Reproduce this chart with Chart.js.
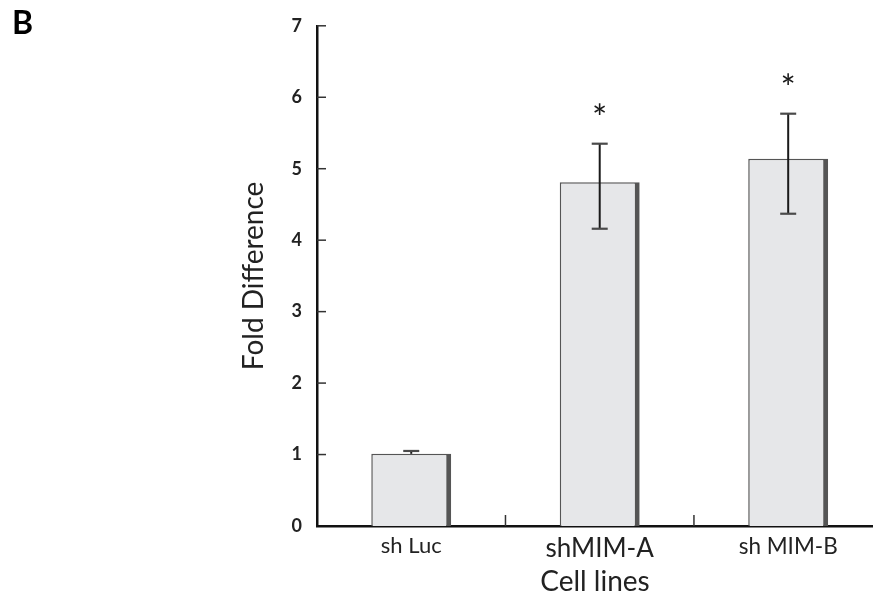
<!DOCTYPE html>
<html>
<head>
<meta charset="utf-8">
<script src="https://cdn.jsdelivr.net/npm/chart.js@4/dist/chart.umd.min.js"></script>
<style>
html,body{margin:0;padding:0;background:#fff;}
#wrap{width:873px;height:599px;position:relative;}
</style>
</head>
<body>
<div id="wrap"><canvas id="c" width="873" height="599"></canvas></div>
<script>
// ---- data ----
const categories = ['sh Luc', 'shMIM-A', 'sh MIM-B'];
const foldDifference = [1.01, 4.81, 5.14];
const errLow = [1.01, 4.16, 4.37];
const errHigh = [1.05, 5.35, 5.77];
const significance = ['', '*', '*'];
const yTicks = [0, 1, 2, 3, 4, 5, 6, 7];
const panelLabel = 'B';
const yTitle = 'Fold Difference';
const xTitle = 'Cell lines';

const FONT = 'Lato';

const decorPlugin = {
  id: 'decor',
  afterDatasetsDraw(chart) {
    const ctx = chart.ctx;
    const xs = chart.scales.x, ys = chart.scales.y;
    ctx.save();
    categories.forEach((c, i) => {
      const x = xs.getPixelForValue(i);
      const yh = ys.getPixelForValue(errHigh[i]);
      const yl = ys.getPixelForValue(errLow[i]);
      ctx.strokeStyle = '#1a1a1a';
      ctx.lineWidth = 2;
      ctx.beginPath(); ctx.moveTo(x, yh); ctx.lineTo(x, yl); ctx.stroke();
      ctx.strokeStyle = '#4a4a4a';
      ctx.lineWidth = 2.2;
      ctx.beginPath(); ctx.moveTo(x - 8, yh); ctx.lineTo(x + 8, yh); ctx.stroke();
      if (errLow[i] < foldDifference[i]) {
        ctx.beginPath(); ctx.moveTo(x - 8, yl); ctx.lineTo(x + 8, yl); ctx.stroke();
      }
      if (significance[i]) {
        ctx.fillStyle = '#1a1a1a';
        ctx.font = '36px ' + FONT;
        ctx.textAlign = 'center';
        ctx.textBaseline = 'alphabetic';
        ctx.fillText(significance[i], x, yh - 13);
      }
    });
    ctx.restore();
  },
  afterDraw(chart) {
    const ctx = chart.ctx;
    const xs = chart.scales.x, ys = chart.scales.y;
    const area = chart.chartArea;
    ctx.save();
    ctx.strokeStyle = '#333';
    ctx.lineWidth = 1.5;
    yTicks.slice(1).forEach(v => {
      const y = ys.getPixelForValue(v);
      ctx.beginPath(); ctx.moveTo(area.left, y); ctx.lineTo(area.left + 9, y); ctx.stroke();
    });
    categories.slice(1).forEach((c, i) => {
      const x = xs.getPixelForValue(i + 0.5);
      ctx.beginPath(); ctx.moveTo(x, area.bottom); ctx.lineTo(x, area.bottom - 11); ctx.stroke();
    });
    ctx.fillStyle = '#000';
    ctx.font = 'bold 32px ' + FONT;
    ctx.textAlign = 'left';
    ctx.textBaseline = 'alphabetic';
    ctx.fillText(panelLabel, 12, 34);
    ctx.restore();
  }
};

new Chart(document.getElementById('c'), {
  type: 'bar',
  data: {
    datasets: [{
      data: categories.map((c, i) => ({ x: i, y: foldDifference[i] })),
      backgroundColor: '#e6e7e9',
      borderColor: '#555555',
      borderWidth: { left: 1.5, top: 1.5, right: 5, bottom: 0 },
      borderSkipped: false,
      categoryPercentage: 1,
      barPercentage: 0.424
    }]
  },
  plugins: [decorPlugin],
  options: {
    responsive: false,
    animation: false,
    events: [],
    layout: { padding: { left: 237, top: 19, right: 0, bottom: 0 } },
    plugins: { legend: { display: false }, tooltip: { enabled: false } },
    scales: {
      x: {
        type: 'linear',
        offset: false,
        min: -0.5,
        max: 2.45,
        afterBuildTicks: s => { s.ticks = categories.map((c, i) => ({ value: i })); },
        afterFit: s => { s.height = 73; },
        grid: { display: false, drawTicks: false, offset: false },
        border: { display: true, color: '#111', width: 2.5 },
        ticks: {
          autoSkip: false,
          maxRotation: 0,
          padding: 7,
          color: '#222',
          font: ctx => ({ family: FONT, size: [22, 26, 22.5][ctx.index] || 22 }),
          callback: v => categories[v] ?? ''
        },
        title: {
          display: true,
          text: xTitle,
          color: '#222',
          font: { family: FONT, size: 28 },
          padding: { top: 0, bottom: 0 }
        }
      },
      y: {
        min: 0,
        max: 7,
        afterBuildTicks: s => { s.ticks = yTicks.map(v => ({ value: v })); },
        afterFit: s => { s.width = 80; },
        grid: { display: false, drawTicks: false },
        border: { display: true, color: '#111', width: 2.5 },
        ticks: {
          padding: 15,
          color: '#222',
          font: { family: FONT, size: 18, weight: 'bold' }
        },
        title: {
          display: true,
          text: yTitle,
          color: '#222',
          font: { family: FONT, size: 28 },
          padding: { top: 0, bottom: 0 }
        }
      }
    }
  }
});
</script>
</body>
</html>
